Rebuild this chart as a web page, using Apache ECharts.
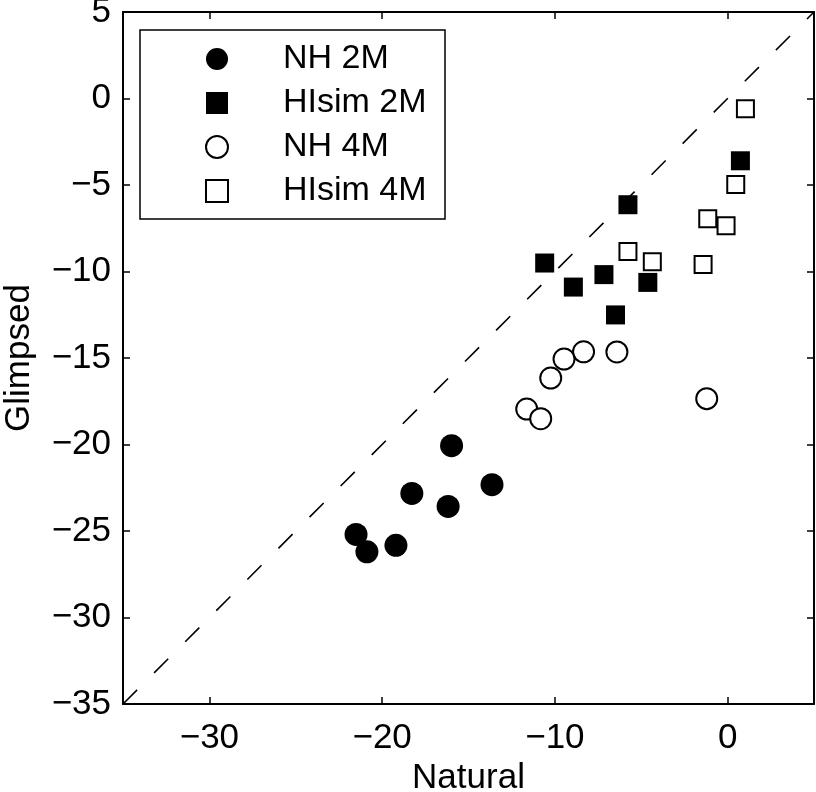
<!DOCTYPE html>
<html><head><meta charset="utf-8">
<script src="https://cdn.jsdelivr.net/npm/echarts@6/dist/echarts.min.js"></script>
<style>html,body{margin:0;padding:0;background:#fff}#c{width:816px;height:792px}</style>
</head><body><div id="c"></div>
<script>
const seriesNames = ['NH 2M', 'HIsim 2M', 'NH 4M', 'HIsim 4M'];
const nh2m = [[-15.98,-20.07],[-13.64,-22.32],[-18.28,-22.83],[-16.18,-23.58],[-21.51,-25.2],[-20.88,-26.2],[-19.2,-25.83]];
const hisim2m = [[-5.77,-6.14],[-10.59,-9.51],[-8.93,-10.9],[-7.16,-10.18],[-4.62,-10.63],[-6.49,-12.51],[0.74,-3.6]];
const nh4m = [[-8.34,-14.64],[-9.47,-15.06],[-6.41,-14.65],[-10.24,-16.16],[-11.63,-17.95],[-10.82,-18.51],[-1.21,-17.35]];
const hisim4m = [[-5.77,-8.84],[-4.36,-9.43],[-1.42,-9.59],[-1.15,-6.95],[-0.09,-7.35],[0.47,-4.97],[1.03,-0.59]];
const diagonal = [[-35,-35],[5,5]];
const xTicks = [-30,-20,-10,0];
const axisMin = -35, axisMax = 5;

const FONT = '"Liberation Sans", Arial, Helvetica, sans-serif';
const fmt = v => String(v).replace('-', '\u2212');
const line = {show:true, onZero:false, lineStyle:{color:'#000', width:2}};
const tick = {show:true, inside:true, length:7, lineStyle:{color:'#000', width:1.5}};

const chart = echarts.init(document.getElementById('c'), null, {renderer:'canvas'});
chart.setOption({
  animation:false,
  backgroundColor:'#fff',
  textStyle:{fontFamily:FONT},
  grid:{left:123, top:12, right:2, bottom:88, containLabel:false, outerBoundsMode:'none'},
  graphic:[{type:'rect', shape:{x:140, y:30, width:305, height:189}, style:{fill:'#fff', stroke:'#000', lineWidth:1.5}, z:50}],
  legend:{
    data:seriesNames, orient:'vertical', left:205, top:30, padding:[12,10,20,0],
    itemWidth:22, itemHeight:22, itemGap:10, z:60,
    textStyle:{fontFamily:FONT, fontSize:34, color:'#000', lineHeight:22, padding:[0,0,0,50]}
  },
  xAxis:[
    {type:'value', min:axisMin, max:axisMax, position:'bottom', axisLine:line,
     axisTick:Object.assign({customValues:xTicks}, tick),
     axisLabel:{customValues:xTicks, formatter:fmt, fontSize:35, color:'#000', fontFamily:FONT, margin:17},
     splitLine:{show:false}, name:'Natural', nameLocation:'middle', nameGap:50,
     nameTextStyle:{fontSize:35, color:'#000', fontFamily:FONT}},
    {type:'value', min:axisMin, max:axisMax, position:'top', axisLine:line,
     axisTick:Object.assign({customValues:xTicks}, tick), axisLabel:{show:false}, splitLine:{show:false}}
  ],
  yAxis:[
    {type:'value', min:axisMin, max:axisMax, interval:5, position:'left', axisLine:line, axisTick:tick,
     axisLabel:{formatter:fmt, fontSize:35, color:'#000', fontFamily:FONT, margin:12},
     splitLine:{show:false}, name:'Glimpsed', nameLocation:'middle', nameGap:86,
     nameTextStyle:{fontSize:35, color:'#000', fontFamily:FONT}},
    {type:'value', min:axisMin, max:axisMax, interval:5, position:'right', axisLine:line, axisTick:tick,
     axisLabel:{show:false}, splitLine:{show:false}}
  ],
  series:[
    {type:'line', data:diagonal, symbol:'none', silent:true, lineStyle:{color:'#000', width:1.6, type:[20,24]}, z:1},
    {name:'NH 2M', type:'scatter', data:nh2m, symbol:'circle', symbolSize:23, itemStyle:{color:'#000', opacity:1}},
    {name:'HIsim 2M', type:'scatter', data:hisim2m, symbol:'rect', symbolSize:19, itemStyle:{color:'#000', opacity:1}},
    {name:'NH 4M', type:'scatter', data:nh4m, symbol:'circle', symbolSize:21, itemStyle:{color:'#fff', borderColor:'#000', borderWidth:2, opacity:1}},
    {name:'HIsim 4M', type:'scatter', data:hisim4m, symbol:'rect', symbolSize:17, itemStyle:{color:'#fff', borderColor:'#000', borderWidth:2, opacity:1}}
  ]
});
</script></body></html>
